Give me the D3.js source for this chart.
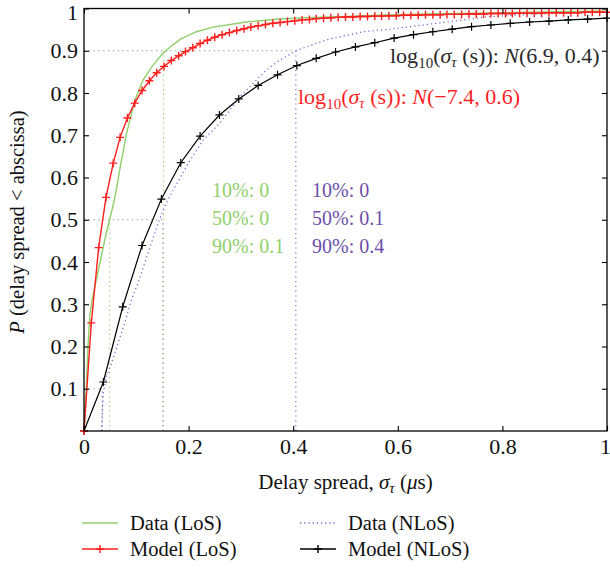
<!DOCTYPE html>
<html>
<head>
<meta charset="utf-8">
<script src="https://cdn.jsdelivr.net/npm/d3@7"></script>
<style>
  html, body { margin: 0; padding: 0; background: #fff; }
  svg { display: block; font-family: "Liberation Serif", "DejaVu Serif", serif; }
</style>
</head>
<body>
<svg id="chart" width="610" height="569"></svg>
<script>
// ── data ──────────────────────────────────────────────────
const xTicks = [0, 0.2, 0.4, 0.6, 0.8, 1];
const yTicks = [0.1, 0.2, 0.3, 0.4, 0.5, 0.6, 0.7, 0.8, 0.9, 1];

// Data (LoS) – empirical CDF, green
const dataLosX = [0, 0.002, 0.0044, 0.0076, 0.0109, 0.0153, 0.0235, 0.033, 0.0425, 0.049, 0.058, 0.0616, 0.07,
  0.0815, 0.0973, 0.113, 0.132, 0.151, 0.17, 0.185, 0.215, 0.247, 0.31, 0.374, 0.438, 0.502, 0.565,
  0.65, 0.75, 0.85, 1.0];
const dataLosP = [0, 0.05, 0.098, 0.2, 0.271, 0.31, 0.358, 0.413, 0.468, 0.5, 0.547, 0.57, 0.63,
  0.705, 0.783, 0.831, 0.866, 0.894, 0.914, 0.928, 0.945, 0.956, 0.968, 0.975, 0.979, 0.981, 0.984,
  0.987, 0.989, 0.991, 0.994];

// Data (NLoS) – empirical CDF, purple dotted
const dataNlosX = [0.033, 0.035, 0.037, 0.0426, 0.0522, 0.065, 0.0778, 0.0904, 0.1033, 0.116, 0.1287, 0.1415,
  0.1543, 0.167, 0.2, 0.228, 0.26, 0.298, 0.349, 0.375, 0.405, 0.445, 0.47, 0.534, 0.585, 0.649, 0.713,
  0.776, 0.839, 0.904, 0.992, 1.0];
const dataNlosP = [0, 0.04, 0.09, 0.1285, 0.16, 0.2076, 0.255, 0.31, 0.35, 0.397, 0.444, 0.4916,
  0.531, 0.5626, 0.635, 0.689, 0.729, 0.791, 0.855, 0.878, 0.9, 0.918, 0.928, 0.945, 0.951, 0.961, 0.971,
  0.981, 0.985, 0.989, 0.992, 0.993];

// Model (LoS) – red with + markers
const modelLosX = [0, 0.014, 0.028, 0.042, 0.056, 0.069, 0.083, 0.097, 0.111, 0.125,
  0.139, 0.153, 0.167, 0.181, 0.194, 0.208, 0.222, 0.236, 0.25, 0.264,
  0.278, 0.292, 0.306, 0.319, 0.333, 0.347, 0.361, 0.375, 0.389, 0.403,
  0.417, 0.431, 0.444, 0.458, 0.472, 0.486, 0.5, 0.514, 0.528, 0.542,
  0.556, 0.569, 0.583, 0.597, 0.611, 0.625, 0.639, 0.653, 0.667, 0.681,
  0.694, 0.708, 0.722, 0.736, 0.75, 0.764, 0.778, 0.792, 0.806, 0.819,
  0.833, 0.847, 0.861, 0.875, 0.889, 0.903, 0.917, 0.931, 0.944, 0.958,
  0.972, 0.986, 1.0];
const modelLosP = [0, 0.256, 0.434, 0.553, 0.634, 0.695, 0.741, 0.776, 0.806, 0.829,
  0.848, 0.863, 0.877, 0.888, 0.898, 0.907, 0.917, 0.925, 0.932, 0.938,
  0.943, 0.948, 0.952, 0.956, 0.959, 0.962, 0.965, 0.967, 0.969, 0.971,
  0.973, 0.974, 0.976, 0.977, 0.978, 0.979, 0.98, 0.98, 0.981, 0.981,
  0.982, 0.982, 0.983, 0.983, 0.984, 0.984, 0.984, 0.985, 0.985, 0.985,
  0.986, 0.986, 0.986, 0.987, 0.987, 0.987, 0.988, 0.988, 0.988, 0.988,
  0.989, 0.989, 0.989, 0.989, 0.99, 0.99, 0.99, 0.99, 0.99, 0.991,
  0.991, 0.991, 0.991];

// Model (NLoS) – black with + markers
const modelNlosX = [0, 0.037, 0.074, 0.111, 0.148, 0.185, 0.222, 0.259, 0.296, 0.333,
  0.37, 0.407, 0.444, 0.481, 0.519, 0.556, 0.593, 0.63, 0.667, 0.704,
  0.741, 0.778, 0.815, 0.852, 0.889, 0.926, 0.963, 1.0];
const modelNlosP = [0, 0.116, 0.294, 0.439, 0.549, 0.635, 0.698, 0.748, 0.786, 0.818,
  0.843, 0.865, 0.882, 0.897, 0.909, 0.919, 0.93, 0.938, 0.945, 0.951,
  0.957, 0.961, 0.965, 0.968, 0.97, 0.973, 0.975, 0.977];

// percentile guide lines (10 %, 50 %, 90 %)
const quantP = [0.1, 0.5, 0.9];
const quantLosX = [0.004, 0.049, 0.152];
const quantNlosX = [0.035, 0.151, 0.405];
const quantLosText = ['10%: 0', '50%: 0', '90%: 0.1'];
const quantNlosText = ['10%: 0', '50%: 0.1', '90%: 0.4'];

// ── colours ───────────────────────────────────────────────
const C_GREEN = '#8fd06c';
const C_RED = '#ff1f1f';
const C_PURPLE = '#6c5ccf';
const C_PURPLE_TXT = '#6d4fab';
const C_GREY = '#8a8a8a';

// ── layout ────────────────────────────────────────────────
const plot = { left: 84, right: 607, top: 8.5, bottom: 431 };
const svg = d3.select('#chart');

const x = d3.scaleLinear().domain([0, 1]).range([plot.left, plot.right]);
const y = d3.scaleLinear().domain([0, 1]).range([plot.bottom, plot.top]);

const zip = (xs, ps) => xs.map((v, i) => [v, ps[i]]);
const line = d3.line().x(d => x(d[0])).y(d => y(d[1]));

// ── guide lines (dotted) ─────────────────────────────────
const guides = svg.append('g');
quantP.forEach((p, i) => {
  const xe = Math.max(quantLosX[i], quantNlosX[i]);
  guides.append('line')
    .attr('x1', x(0)).attr('x2', x(xe))
    .attr('y1', y(p)).attr('y2', y(p))
    .attr('stroke', C_GREY).attr('stroke-width', 1.1)
    .attr('stroke-dasharray', '1.2,3.6');
  guides.append('line')
    .attr('x1', x(quantLosX[i])).attr('x2', x(quantLosX[i]))
    .attr('y1', y(0)).attr('y2', y(p))
    .attr('stroke', C_GREEN).attr('stroke-width', 1.1)
    .attr('stroke-dasharray', '1.2,3.6');
  guides.append('line')
    .attr('x1', x(quantNlosX[i])).attr('x2', x(quantNlosX[i]))
    .attr('y1', y(0)).attr('y2', y(p))
    .attr('stroke', C_PURPLE).attr('stroke-width', 1.1)
    .attr('stroke-dasharray', '1.2,3.6');
});

// ── curves ───────────────────────────────────────────────
svg.append('path')
  .attr('d', line(zip(dataLosX, dataLosP)))
  .attr('fill', 'none').attr('stroke', C_GREEN).attr('stroke-width', 1.4);

svg.append('path')
  .attr('d', line(zip(dataNlosX, dataNlosP)))
  .attr('fill', 'none').attr('stroke', C_PURPLE).attr('stroke-width', 1.2)
  .attr('stroke-dasharray', '1.2,3');

function markerCurve(xs, ps, colour, width, arm) {
  const g = svg.append('g');
  g.append('path')
    .attr('d', line(zip(xs, ps)))
    .attr('fill', 'none').attr('stroke', colour).attr('stroke-width', width);
  g.selectAll('path.mk')
    .data(zip(xs, ps))
    .enter()
    .append('path')
      .attr('class', 'mk')
      .attr('d', d => `M${x(d[0]) - arm},${y(d[1])}H${x(d[0]) + arm}M${x(d[0])},${y(d[1]) - arm}V${y(d[1]) + arm}`)
      .attr('stroke', colour).attr('stroke-width', width);
}
markerCurve(modelNlosX, modelNlosP, '#000', 1.2, 4);
markerCurve(modelLosX, modelLosP, C_RED, 1.4, 4);

// ── axes (box with inward ticks) ─────────────────────────
const axisFont = 22;
function styleAxis(g) {
  g.select('.domain').remove();
  g.selectAll('.tick line').attr('stroke', '#000').attr('stroke-width', 1.1);
  g.selectAll('.tick text').attr('font-size', axisFont).attr('fill', '#111')
    .attr('font-family', '"Liberation Serif", serif');
}
const fmt = d => (d === 0 || d === 1) ? String(d) : d3.format('.1f')(d);

svg.append('g')
  .attr('transform', `translate(0,${plot.bottom})`)
  .call(d3.axisBottom(x).tickValues(xTicks).tickSize(-5).tickPadding(7).tickFormat(fmt))
  .call(styleAxis)
  .call(g => g.selectAll('.tick text').filter(d => d === 1).attr('dx', -2));
svg.append('g')
  .attr('transform', `translate(0,${plot.top})`)
  .call(d3.axisTop(x).tickValues(xTicks).tickSize(-5).tickFormat(''))
  .call(styleAxis);
svg.append('g')
  .attr('transform', `translate(${plot.left},0)`)
  .call(d3.axisLeft(y).tickValues(yTicks).tickSize(-5).tickPadding(6).tickFormat(fmt))
  .call(styleAxis)
  .call(g => g.selectAll('.tick text').filter(d => d === 1).attr('dy', '0.5em'));
svg.append('g')
  .attr('transform', `translate(${plot.right},0)`)
  .call(d3.axisRight(y).tickValues(yTicks).tickSize(-5).tickFormat(''))
  .call(styleAxis);

svg.append('rect')
  .attr('x', plot.left).attr('y', plot.top)
  .attr('width', plot.right - plot.left).attr('height', plot.bottom - plot.top)
  .attr('fill', 'none').attr('stroke', '#000').attr('stroke-width', 1.3);

// ── axis titles ──────────────────────────────────────────
const xt = svg.append('text')
  .attr('x', (plot.left + plot.right) / 2).attr('y', 489)
  .attr('text-anchor', 'middle').attr('font-size', 21).attr('fill', '#111');
xt.append('tspan').text('Delay spread, ');
xt.append('tspan').attr('font-style', 'italic').text('σ');
xt.append('tspan').attr('font-style', 'italic').attr('font-size', 15).attr('dy', 4).text('τ');
xt.append('tspan').attr('dy', -4).text(' (');
xt.append('tspan').attr('font-style', 'italic').text('μ');
xt.append('tspan').text('s)');

const yt = svg.append('text')
  .attr('transform', 'translate(24,222) rotate(-90)')
  .attr('text-anchor', 'middle').attr('font-size', 20.5).attr('fill', '#111');
yt.append('tspan').attr('font-style', 'italic').text('P');
yt.append('tspan').text(' (delay spread < abscissa)');

// ── annotations ──────────────────────────────────────────
function lognormLabel(px, py, colour, mean, sd) {
  const t = svg.append('text').attr('x', px).attr('y', py)
    .attr('font-size', 22).attr('fill', colour);
  t.append('tspan').text('log');
  t.append('tspan').attr('font-size', 15).attr('dy', 5).text('10');
  t.append('tspan').attr('dy', -5).text('(');
  t.append('tspan').attr('font-style', 'italic').text('σ');
  t.append('tspan').attr('font-style', 'italic').attr('font-size', 15).attr('dy', 4).text('τ');
  t.append('tspan').attr('dy', -4).text(' (s)): ');
  t.append('tspan').attr('font-style', 'italic').text('N');
  t.append('tspan').text(`(${mean}, ${sd})`);
}
lognormLabel(390, 63, '#2a2a2a', '6.9', '0.4');
lognormLabel(298, 104, C_RED, '−7.4', '0.6');

const qBase = [197, 225, 253];
quantLosText.forEach((s, i) => {
  svg.append('text').attr('x', 212).attr('y', qBase[i])
    .attr('font-size', 20).attr('fill', C_GREEN).text(s);
});
quantNlosText.forEach((s, i) => {
  svg.append('text').attr('x', 312).attr('y', qBase[i])
    .attr('font-size', 20).attr('fill', C_PURPLE_TXT).text(s);
});

// ── legend ───────────────────────────────────────────────
const legendItems = [
  { label: 'Data (LoS)', colour: C_GREEN, dash: null, marker: false, lx: 82, ly: 523 },
  { label: 'Model (LoS)', colour: C_RED, dash: null, marker: true, lx: 82, ly: 549 },
  { label: 'Data (NLoS)', colour: C_PURPLE, dash: '1.2,3', marker: false, lx: 300, ly: 523 },
  { label: 'Model (NLoS)', colour: '#000', dash: null, marker: true, lx: 300, ly: 549 }
];
legendItems.forEach(it => {
  const g = svg.append('g');
  g.append('line')
    .attr('x1', it.lx).attr('x2', it.lx + 36)
    .attr('y1', it.ly).attr('y2', it.ly)
    .attr('stroke', it.colour).attr('stroke-width', 1.4)
    .attr('stroke-dasharray', it.dash);
  if (it.marker) {
    g.append('path')
      .attr('d', `M${it.lx + 14},${it.ly}H${it.lx + 22}M${it.lx + 18},${it.ly - 4}V${it.ly + 4}`)
      .attr('stroke', it.colour).attr('stroke-width', 1.4);
  }
  g.append('text')
    .attr('x', it.lx + 48).attr('y', it.ly + 7)
    .attr('font-size', 20.5).attr('fill', '#111').text(it.label);
});
</script>
</body>
</html>
